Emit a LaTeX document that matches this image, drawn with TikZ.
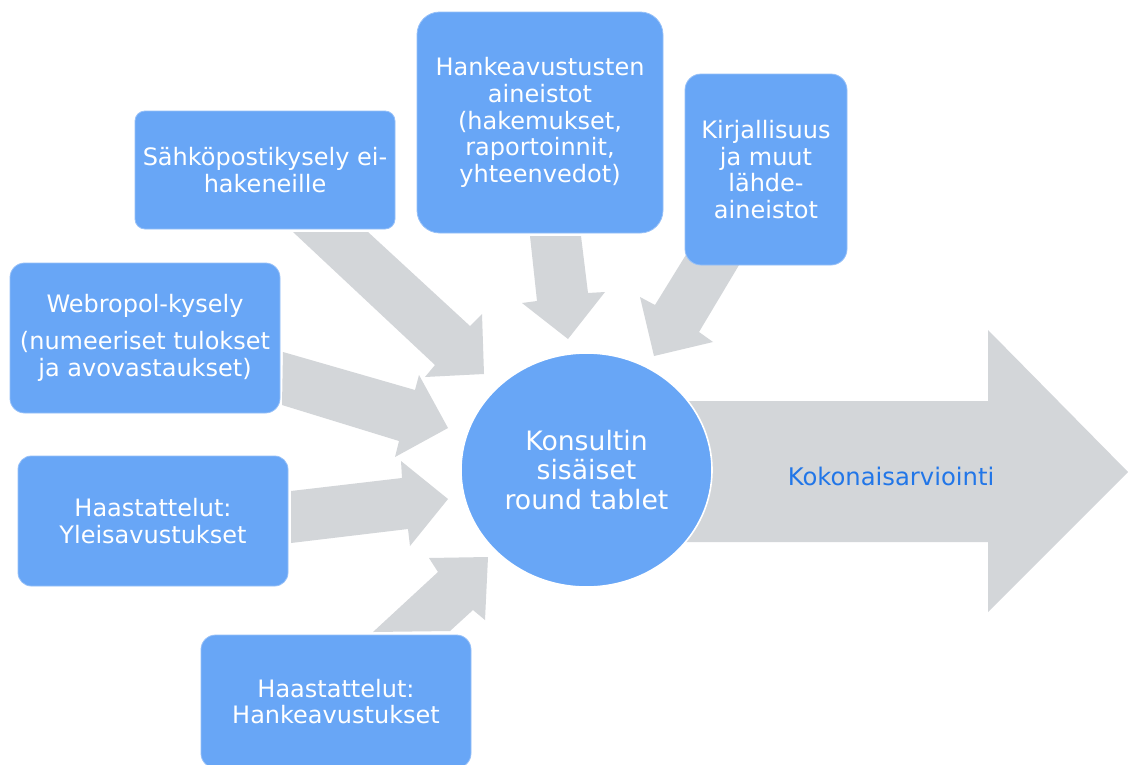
\documentclass[tikz,border=0pt]{standalone}
\usepackage{fontspec}
\setmainfont{DejaVu Sans}
\usetikzlibrary{shapes.geometric}
\definecolor{boxblue}{RGB}{104,166,246}
\definecolor{boxedge}{RGB}{150,192,248}
\definecolor{arrowgray}{RGB}{211,214,217}
\definecolor{labelblue}{RGB}{33,118,232}
\newcommand{\boxfont}{\fontsize{18}{20.1}\selectfont}
\newcommand{\circfont}{\fontsize{20}{22}\selectfont}
\tikzset{
  srcbox/.style={rectangle, fill=boxblue, draw=boxedge, line width=0.6pt,
    text=white, align=center, inner sep=0pt, font=\boxfont},
  hubcircle/.style={ellipse, fill=boxblue, draw=white, line width=1.2pt,
    text=white, align=center, inner sep=0pt, font=\circfont,
    minimum width=188.25pt, minimum height=175.5pt},
  flowarrow/.style={fill=arrowgray, draw=none},
  outlabel/.style={text=labelblue, font=\fontsize{18.2}{20}\selectfont, inner sep=0pt}
}
\begin{document}
\begin{tikzpicture}[x=0.75pt,y=-0.75pt]
\clip (0,0) rectangle (1128,764);
\fill[white] (0,0) rectangle (1128,764);

% big output arrow
\fill[flowarrow] (650,401) -- (988,401) -- (988,330) -- (1128,472) -- (988,612) -- (988,542) -- (650,542) -- cycle;
\node[outlabel] (out) at (891,476) {Kokonaisarviointi};

% incoming block arrows
\fill[flowarrow] (293,232) -- (368,232) -- (470,326) -- (482,314) -- (484,374) -- (425,377) -- (435,365) -- cycle;
\fill[flowarrow] (283,352) -- (415,390) -- (419,375) -- (448,428) -- (395,457) -- (399,441) -- (282,405) -- cycle;
\fill[flowarrow] (291,491) -- (402,478) -- (401,461) -- (448,499) -- (410,546) -- (408,529) -- (291,543) -- cycle;
\fill[flowarrow] (373,632) -- (438,572) -- (429,558) -- (488,557) -- (485,620) -- (473,610) -- (450,631) -- cycle;
\fill[flowarrow] (530,236) -- (581,236) -- (588,293) -- (605,292) -- (568,339) -- (522,303) -- (537,301) -- cycle;
\fill[flowarrow] (692,245) -- (745,255) -- (699,332) -- (713,342) -- (654,356) -- (640,297) -- (655,305) -- cycle;

% hub
\node[hubcircle] (hub) at (586.5,470) {Konsultin\\sisäiset\\round tablet};

% source boxes
\node[srcbox, rounded corners=7.5pt, minimum width=195pt, minimum height=88.5pt] (sahko) at (265,170)
  {Sähköpostikysely ei-\\hakeneille};
\node[srcbox, rounded corners=17pt, minimum width=184.5pt, minimum height=165.75pt] (hanke) at (540,122.5)
  {Hankeavustusten\\aineistot\\(hakemukset,\\raportoinnit,\\yhteenvedot)};
\node[srcbox, rounded corners=12pt, minimum width=121.5pt, minimum height=143.25pt] (kirj) at (766,169.5)
  {Kirjallisuus\\ja muut\\lähde-\\aineistot};
\node[srcbox, rounded corners=11pt, minimum width=202.5pt, minimum height=112.5pt] (webro) at (145,338)
  {Webropol-kysely\\[7.5pt](numeeriset tulokset\\ja avovastaukset)};
\node[srcbox, rounded corners=10pt, minimum width=202.5pt, minimum height=97.5pt] (yleis) at (153,521)
  {Haastattelut:\\Yleisavustukset};
\node[srcbox, rounded corners=11pt, minimum width=202.5pt, minimum height=99.75pt] (hankeav) at (336,701.5)
  {Haastattelut:\\Hankeavustukset};
\end{tikzpicture}
\end{document}
